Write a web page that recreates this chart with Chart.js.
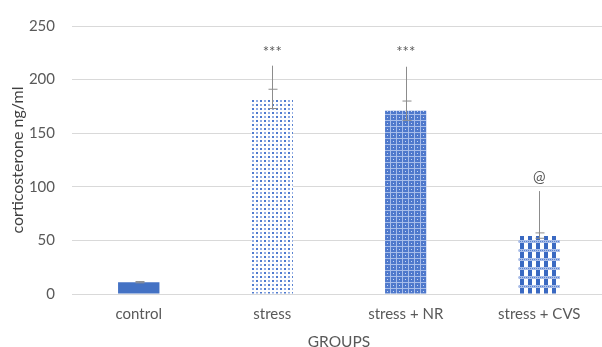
<!DOCTYPE html>
<html>
<head>
<meta charset="utf-8">
<script src="https://cdn.jsdelivr.net/npm/chart.js@4.4.0/dist/chart.umd.min.js"></script>
<style>
  html, body { margin: 0; padding: 0; background: #fff; overflow: hidden; }
  #wrap { width: 606px; height: 347px; overflow: hidden; }
</style>
</head>
<body>
<div id="wrap"><canvas id="chart" width="606" height="351"></canvas></div>
<script>
// ===== Data =====
const groups = ['control', 'stress', 'stress + NR', 'stress + CVS'];
const means = [11, 181, 171, 54];
const errUp = [0.6, 10, 9, 3];
const errDown = [0.6, 8, 9, 2];
const stemTop = [null, 213, 212, 96];
const marks = ['', '***', '***', '@'];
const markAt = [null, 226, 226, 109];
const yTicks = [0, 50, 100, 150, 200, 250];

const BLUE = '#4472C4';
const GREY = '#595959';

// ===== Fill patterns =====
function makeTile(w, h, draw) {
  const c = document.createElement('canvas');
  c.width = w; c.height = h;
  const g = c.getContext('2d');
  draw(g);
  return document.createElement('canvas').getContext('2d').createPattern(c, 'repeat');
}

const dotted = makeTile(8, 8, g => {
  g.fillStyle = '#fff'; g.fillRect(0, 0, 8, 8);
  g.fillStyle = '#4f7bcf';
  g.fillRect(0, 0, 2, 2); g.fillRect(4, 4, 2, 2);
  g.fillStyle = '#92ade4';
  g.fillRect(4, 0, 2, 2); g.fillRect(0, 4, 2, 2);
});

const dense = makeTile(6, 6, g => {
  g.fillStyle = '#4f79cc'; g.fillRect(0, 0, 6, 6);
  g.fillStyle = '#a7bdea';
  g.fillRect(0, 0, 6, 1); g.fillRect(0, 0, 1, 6);
  g.fillStyle = '#c9d7f3';
  g.fillRect(3, 3, 1, 1);
});

const checks = makeTile(8, 9, g => {
  g.fillStyle = '#fff'; g.fillRect(0, 0, 8, 9);
  g.fillStyle = '#3a69c2';
  g.fillRect(0, 0, 4, 6);
  g.fillStyle = '#a9bde8';
  g.fillRect(0, 6, 8, 3);
  g.fillStyle = '#5a83d0';
  for (let x = 0; x < 8; x += 2) g.fillRect(x, 7, 1, 1);
});

const fills = [BLUE, dotted, dense, checks];

// ===== Error bars + significance marks =====
const errorBars = {
  id: 'errorBars',
  afterDatasetsDraw(chart) {
    const ctx = chart.ctx;
    const y = chart.scales.y;
    const meta = chart.getDatasetMeta(0);
    ctx.save();
    ctx.strokeStyle = '#8c8c8c';
    ctx.lineWidth = 1;
    meta.data.forEach((bar, i) => {
      const x = Math.round(bar.x) + 0.5;
      const hi = y.getPixelForValue(means[i] + errUp[i]);
      const lo = y.getPixelForValue(means[i] - errDown[i]);
      ctx.beginPath();
      ctx.moveTo(x, hi); ctx.lineTo(x, lo);
      ctx.moveTo(x - 4, hi); ctx.lineTo(x + 5, hi);
      ctx.moveTo(x - 4, lo); ctx.lineTo(x + 5, lo);
      if (stemTop[i] !== null) {
        ctx.moveTo(x, y.getPixelForValue(means[i]));
        ctx.lineTo(x, y.getPixelForValue(stemTop[i]));
      }
      ctx.stroke();
      if (marks[i]) {
        ctx.fillStyle = GREY;
        ctx.font = '15px Lato';
        ctx.textAlign = 'center';
        ctx.textBaseline = 'middle';
        ctx.fillText(marks[i], bar.x, y.getPixelForValue(markAt[i]));
      }
    });
    ctx.restore();
  }
};

// ===== Chart =====
new Chart(document.getElementById('chart'), {
  type: 'bar',
  data: {
    labels: groups,
    datasets: [{
      data: means,
      backgroundColor: fills,
      borderWidth: 0,
      categoryPercentage: 1,
      barPercentage: 0.31
    }]
  },
  options: {
    responsive: false,
    animation: false,
    layout: { padding: { top: 13, right: 0, left: 8, bottom: 0 } },
    plugins: {
      legend: { display: false },
      tooltip: { enabled: false }
    },
    scales: {
      x: {
        afterFit: scale => { scale.height = 57; },
        grid: { display: false, drawTicks: false },
        border: { display: false },
        ticks: { color: GREY, font: { family: 'Lato', size: 15 }, padding: 11 },
        title: { display: true, text: 'GROUPS', color: GREY, font: { family: 'Lato', size: 15.5 }, padding: { top: 0, bottom: 0 } }
      },
      y: {
        min: 0,
        max: 250,
        afterFit: scale => { scale.width = 64; },
        afterBuildTicks: axis => { axis.ticks = yTicks.map(v => ({ value: v })); },
        grid: { color: '#d9d9d9', drawTicks: false, lineWidth: 1 },
        border: { display: false },
        ticks: { color: GREY, font: { family: 'Lato', size: 15 }, padding: 17 },
        title: { display: true, text: 'corticosterone ng/ml', color: '#404040', font: { family: 'Lato', size: 16 }, padding: { top: 0, bottom: 5 } }
      }
    }
  },
  plugins: [errorBars]
});
</script>
</body>
</html>
